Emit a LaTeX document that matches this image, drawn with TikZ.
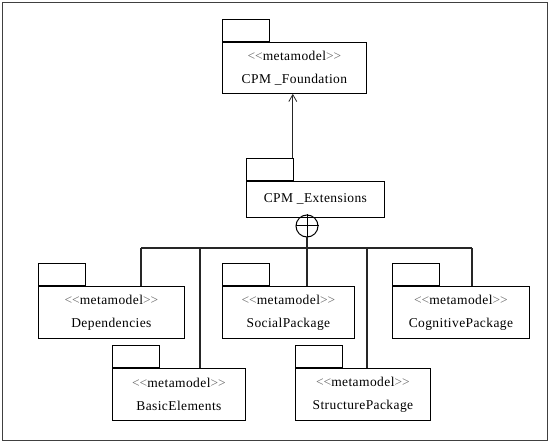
\documentclass[tikz,border=0pt]{standalone}
\usepackage{fontspec}
\setmainfont{Liberation Serif}
\newfontfamily\pkgfont{Liberation Serif}[LetterSpace=3]
\usetikzlibrary{arrows.meta}
\newcommand{\stereotype}{{\color{black!60}<\kern0pt<}metamodel{\color{black!60}>\kern0pt>}}

\begin{document}
\begin{tikzpicture}[x=1pt, y=-1pt,
		pkg/.style={draw, line width=0.8pt, anchor=north west, align=center, inner sep=0pt, text=black, font=\pkgfont\fontsize{13.5}{23}\selectfont},
		pkgtab/.style={draw, line width=0.8pt, anchor=south west, minimum width=47pt, minimum height=22pt, inner sep=0pt},
		link/.style={line width=1.5pt, black!85}]
	\useasboundingbox (0,0) rectangle (550,444);
	\draw [line width=1pt, black!75] (2.5,3) rectangle (547,440);

	\node [pkg, minimum width=144pt, minimum height=51pt] (found) at (222,42) {\stereotype\\CPM \_Foundation};
	\node [pkgtab] (foundtab) at (found.north west) {};
	\node [pkg, minimum width=138pt, minimum height=36pt] (ext) at (246,181) {CPM \_Extensions};
	\node [pkgtab] (exttab) at (ext.north west) {};

	\node [pkg, minimum width=146pt, minimum height=52pt] (dep) at (38,286) {\stereotype\\Dependencies};
	\node [pkgtab] (deptab) at (dep.north west) {};
	\node [pkg, minimum width=132pt, minimum height=52pt] (social) at (222,286) {\stereotype\\SocialPackage};
	\node [pkgtab] (socialtab) at (social.north west) {};
	\node [pkg, minimum width=137pt, minimum height=52pt] (cog) at (392,286) {\stereotype\\CognitivePackage};
	\node [pkgtab] (cogtab) at (cog.north west) {};
	\node [pkg, minimum width=133pt, minimum height=52pt] (basic) at (112,368) {\stereotype\\BasicElements};
	\node [pkgtab] (basictab) at (basic.north west) {};
	\node [pkg, minimum width=135pt, minimum height=52pt] (struct) at (295,368) {\stereotype\\StructurePackage};
	\node [pkgtab] (structtab) at (struct.north west) {};

	\coordinate (up) at ([xshift=-1pt]exttab.north east);
	\draw [line width=1.3pt, black!85, -{Straight Barb[length=7pt, width=8pt, line width=0.8pt]}] (up) -- (up |- found.south);

	\node [draw, circle, line width=1pt, minimum size=22pt, inner sep=0pt] (nest) at (307,226) {};
	\draw [line width=1pt] (nest.north) -- (nest.south) (nest.west) -- (nest.east);

	\coordinate (barL) at (141,248);
	\coordinate (barR) at (472,248);
	\coordinate (jB) at (200,248);
	\coordinate (jS) at (367,248);
	\draw [link] (barL) -- (barR);
	\draw [link] (nest.south) -- (nest.south |- social.north);
	\draw [link] (barL) -- (barL |- dep.north);
	\draw [link] (barR) -- (barR |- cog.north);
	\draw [link] (jB) -- (jB |- basic.north);
	\draw [link] (jS) -- (jS |- struct.north);
\end{tikzpicture}
\end{document}
